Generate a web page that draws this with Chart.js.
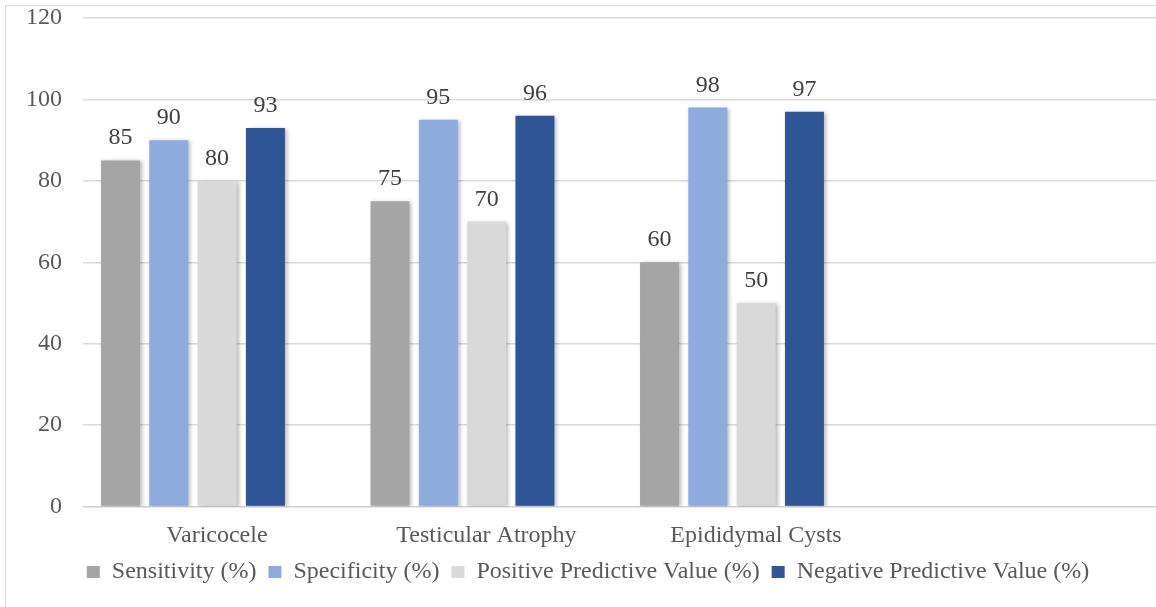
<!DOCTYPE html>
<html>
<head>
<meta charset="utf-8">
<title>Diagnostic accuracy</title>
<script src="https://cdn.jsdelivr.net/npm/chart.js@4.4.3/dist/chart.umd.min.js"></script>
<style>
  html, body { margin: 0; padding: 0; overflow: hidden; background: #fff; }
  #wrap { position: relative; width: 1176px; height: 607px; }
</style>
</head>
<body>
<div id="wrap"><canvas id="chart"></canvas></div>
<script>
// values
const categories = ['Varicocele', 'Testicular Atrophy', 'Epididymal Cysts'];
const sensitivity = [85, 75, 60];
const specificity = [90, 95, 98];
const ppv = [80, 70, 50];
const npv = [93, 96, 97];
const yTicks = [0, 20, 40, 60, 80, 100, 120];

const FONT = '"Liberation Serif", "Times New Roman", serif';
const SIZE = 24;
const TEXT = '#595959';

function points(arr) {
  return arr.map((v, i) => ({ x: i, y: v }));
}

// light frame of the original chart box (left and top edges only show)
const framePlugin = {
  id: 'frame',
  beforeDraw(chart) {
    const ctx = chart.ctx;
    ctx.save();
    ctx.strokeStyle = '#D9D9D9';
    ctx.lineWidth = 1;
    ctx.beginPath();
    ctx.moveTo(5.5, chart.height + 10);
    ctx.lineTo(5.5, 5.5);
    ctx.lineTo(chart.width + 10, 5.5);
    ctx.stroke();
    ctx.restore();
  }
};

// soft shadow under the bars, then the value labels on top
const barLabels = {
  id: 'barLabels',
  beforeDatasetsDraw(chart) {
    const ctx = chart.ctx;
    ctx.save();
    ctx.shadowColor = 'rgba(0,0,0,0.28)';
    ctx.shadowBlur = 4;
    ctx.shadowOffsetX = 2;
    ctx.shadowOffsetY = 1;
  },
  afterDatasetsDraw(chart) {
    const ctx = chart.ctx;
    ctx.restore();
    ctx.save();
    ctx.font = SIZE + 'px ' + FONT;
    ctx.fillStyle = '#404040';
    ctx.textAlign = 'center';
    ctx.textBaseline = 'alphabetic';
    chart.data.datasets.forEach((ds, di) => {
      const meta = chart.getDatasetMeta(di);
      meta.data.forEach((bar, i) => {
        ctx.fillText(String(ds.data[i].y), bar.x, bar.y - 16);
      });
    });
    ctx.restore();
  }
};

new Chart(document.getElementById('chart'), {
  type: 'bar',
  data: {
    datasets: [
      { label: 'Sensitivity (%)', data: points(sensitivity), backgroundColor: '#A5A5A5' },
      { label: 'Specificity (%)', data: points(specificity), backgroundColor: '#8FAADC' },
      { label: 'Positive Predictive Value (%)', data: points(ppv), backgroundColor: '#D9D9D9' },
      { label: 'Negative Predictive Value (%)', data: points(npv), backgroundColor: '#2F5597' }
    ]
  },
  options: {
    responsive: true,
    maintainAspectRatio: false,
    animation: false,
    categoryPercentage: 0.717,
    barPercentage: 0.807,
    layout: { padding: { top: 18, left: 0, right: 0, bottom: 13 } },
    scales: {
      x: {
        type: 'linear',
        offset: false,
        min: -0.408,
        max: 3.6475,
        grid: { display: false, drawTicks: false, offset: false },
        border: { display: false },
        afterBuildTicks(scale) {
          scale.ticks = categories.map((c, i) => ({ value: i }));
        },
        afterFit(scale) { scale.height = 41.5; },
        ticks: {
          padding: 15,
          labelOffset: 24,
          color: TEXT,
          font: { family: FONT, size: SIZE },
          callback: v => categories[v]
        }
      },
      y: {
        min: 0,
        max: 120,
        afterBuildTicks(scale) {
          scale.ticks = yTicks.map(v => ({ value: v }));
        },
        afterFit(scale) {
          scale.width = 83;
          scale.paddingTop = 0;
          scale.paddingBottom = 0;
        },
        grid: {
          color: ctx => ctx.tick && ctx.tick.value === 0 ? '#CFCFCF' : '#D9D9D9',
          lineWidth: 1.5,
          drawTicks: false
        },
        border: { display: false },
        ticks: {
          padding: 21,
          color: TEXT,
          font: { family: FONT, size: SIZE }
        }
      }
    },
    plugins: {
      legend: {
        position: 'bottom',
        labels: {
          boxWidth: 13,
          boxHeight: 12,
          padding: 12,
          color: TEXT,
          font: { family: FONT, size: SIZE }
        }
      },
      tooltip: { enabled: false }
    }
  },
  plugins: [framePlugin, barLabels]
});
</script>
</body>
</html>
